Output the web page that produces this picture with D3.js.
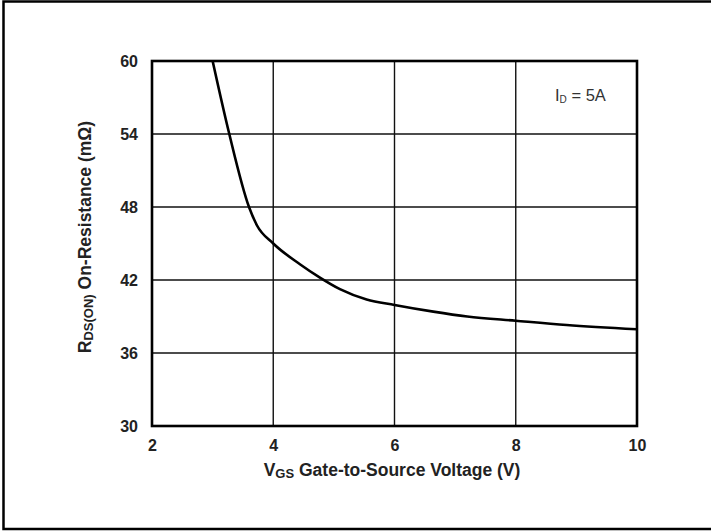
<!DOCTYPE html>
<html><head><meta charset="utf-8">
<script src="https://cdn.jsdelivr.net/npm/d3@7"></script>
<style>body{margin:0;background:#fff}svg{display:block}</style>
</head><body>
<svg id="c" width="711" height="531"></svg>
<script>
const vgs = [3.0, 3.27, 3.6, 3.73, 4.0, 4.44, 4.77, 5.1, 5.54, 6.0, 6.64, 7.2, 8.0, 8.84, 10.0];
const rds = [60, 54.1, 48.0, 46.5, 45.0, 43.3, 42.2, 41.25, 40.4, 39.95, 39.4, 39.0, 38.65, 38.3, 37.95];
const xTicks = [2, 4, 6, 8, 10];
const yTicks = [30, 36, 42, 48, 54, 60];

const svg = d3.select("#c");
const m = {l:152, t:61, r:637, b:426};
const x = d3.scaleLinear().domain([2,10]).range([m.l, m.r]);
const y = d3.scaleLinear().domain([30,60]).range([m.b, m.t]);

// outer frame
svg.append("path").attr("d","M720,1.5 H3.5 V529 H720").attr("fill","none").attr("stroke","#000").attr("stroke-width",2.5);

// grid
const g = svg.append("g");
g.selectAll(".vx").data(xTicks.slice(1,-1)).join("line")
 .attr("x1",d=>x(d)).attr("x2",d=>x(d)).attr("y1",m.t).attr("y2",m.b)
 .attr("stroke","#111").attr("stroke-width",1.4);
g.selectAll(".hy").data(yTicks.slice(1,-1)).join("line")
 .attr("y1",d=>y(d)).attr("y2",d=>y(d)).attr("x1",m.l).attr("x2",m.r)
 .attr("stroke","#111").attr("stroke-width",1.4);

// curve
svg.append("clipPath").attr("id","cp").append("rect")
 .attr("x",m.l).attr("y",m.t).attr("width",m.r-m.l).attr("height",m.b-m.t);
svg.append("path").datum(vgs.map((v,i)=>[v,rds[i]]))
 .attr("clip-path","url(#cp)")
 .attr("d", d3.line().x(d=>x(d[0])).y(d=>y(d[1])).curve(d3.curveMonotoneX))
 .attr("fill","none").attr("stroke","#000").attr("stroke-width",2.6);

// plot frame
svg.append("rect").attr("x",m.l).attr("y",m.t).attr("width",m.r-m.l).attr("height",m.b-m.t)
 .attr("fill","none").attr("stroke","#000").attr("stroke-width",2.6);

const font = "'Liberation Sans', Arial, sans-serif";
// axes (labels only)
const xa = svg.append("g").attr("transform",`translate(0,${m.b})`)
 .call(d3.axisBottom(x).tickValues(xTicks).tickSize(0).tickPadding(14));
xa.select(".domain").remove();
xa.selectAll("text").attr("font-family",font).attr("font-size",16).attr("font-weight","bold").attr("fill","#222");
const ya = svg.append("g").attr("transform",`translate(${m.l},0)`)
 .call(d3.axisLeft(y).tickValues(yTicks).tickSize(0).tickPadding(14));
ya.select(".domain").remove();
ya.selectAll("text").attr("font-family",font).attr("font-size",16).attr("font-weight","bold").attr("fill","#222");

// x title
const xt = svg.append("text").attr("x",392).attr("y",476).attr("text-anchor","middle")
 .attr("font-family",font).attr("font-size",17.5).attr("font-weight","bold").attr("fill","#222");
xt.append("tspan").text("V");
xt.append("tspan").attr("font-size",13).attr("dy",2).text("GS");
xt.append("tspan").attr("dy",-2).text(" Gate-to-Source Voltage (V)");

// y title
const yt = svg.append("text").attr("transform","translate(91,237) rotate(-90)").attr("text-anchor","middle")
 .attr("font-family",font).attr("font-size",17.5).attr("font-weight","bold").attr("fill","#222");
yt.append("tspan").text("R");
yt.append("tspan").attr("font-size",13).attr("dy",2).text("DS(ON)");
yt.append("tspan").attr("dy",-2).text(" On-Resistance (mΩ)");

// annotation
const an = svg.append("text").attr("x",555).attr("y",101)
 .attr("font-family",font).attr("font-size",16.5).attr("fill","#333");
an.append("tspan").text("I");
an.append("tspan").attr("font-size",10).attr("dy",2).text("D");
an.append("tspan").attr("dy",-2).text(" = 5A");
</script>
</body></html>
